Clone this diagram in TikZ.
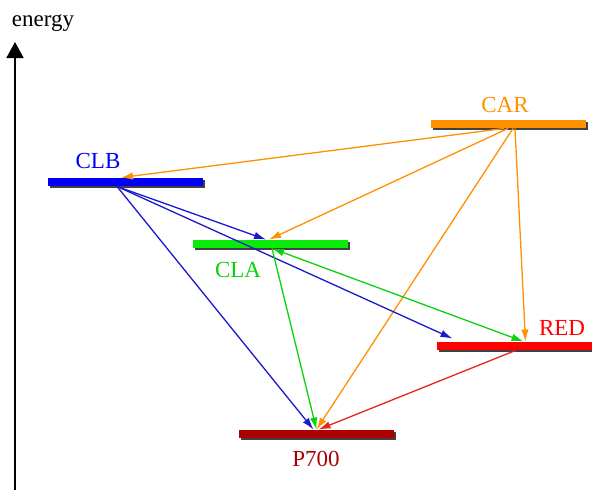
\documentclass[tikz,border=0pt]{standalone}
\usepackage{fontspec}
\setmainfont{Liberation Serif}
\usetikzlibrary{arrows.meta,shadows}
\definecolor{carorange}{RGB}{255,145,0}
\definecolor{clbblue}{RGB}{0,0,250}
\definecolor{clbline}{RGB}{25,25,205}
\definecolor{clagreen}{RGB}{10,235,10}
\definecolor{redred}{RGB}{255,0,0}
\definecolor{redline}{RGB}{235,35,35}
\definecolor{pdark}{RGB}{172,0,0}
\begin{document}
\begin{tikzpicture}[x=1pt,y=-1pt]
    \useasboundingbox (0,0) rectangle (592,490);

    % energy axis
    \coordinate (axbot) at (15,490);
    \coordinate (axtop) at (15,42);
    \draw [line width=1.8pt,-{Triangle[length=16pt,width=17pt]}] (axbot) -- (axtop);
    \node [font=\fontsize{23}{26}\selectfont] (energy) at (43,23) {energy};

    \begin{scope}[every node/.style={rectangle, inner sep=0pt, minimum width=155pt, minimum height=8.5pt,
            drop shadow={shadow xshift=2pt, shadow yshift=-2pt, opacity=0.75, fill=black}}]
        \node [fill=carorange] (car) at (508,124) {};
        \node [fill=clbblue] (clb) at (125,182) {};
        \node [fill=clagreen] (cla) at (270,244) {};
        \node [fill=redred] (red) at (514.5,346) {};
        \node [fill=pdark] (p700) at (316.5,434) {};
    \end{scope}

    \begin{scope}[every node/.style={font=\fontsize{23}{26}\selectfont}]
        \node [text=carorange] (carlab) at (505,105) {CAR};
        \node [text=clbblue] (clblab) at (98,161) {CLB};
        \node [text=clagreen!90!black] (clalab) at (238,270) {CLA};
        \node [text=redred] (redlab) at (562,328) {RED};
        \node [text=pdark] (p700lab) at (316,459) {P700};
    \end{scope}

    \begin{scope}[every edge/.style={draw, line width=1.3pt}, >={Latex[length=12pt,width=7.5pt]}]
        % from CAR
        \path [->, carorange] ([xshift=-4pt]car.south) edge ([xshift=-4pt]clb.north);
        \path [->, carorange] ([xshift=0pt]car.south) edge ([xshift=-1pt]cla.north);
        \path [->, carorange] ([xshift=5pt]car.south) edge ([xshift=0pt]p700.north);
        \path [->, carorange] ([xshift=7pt]car.south) edge ([xshift=11pt]red.north);
        % from CLB
        \path [->, clbline] ([xshift=-8pt]clb.south) edge ([xshift=-4pt]cla.north);
        \path [->, clbline] ([xshift=-8pt]clb.south) edge ([xshift=-62pt,yshift=3pt]red.north);
        \path [->, clbline] ([xshift=-8pt]clb.south) edge ([xshift=-3pt]p700.north);
        % from CLA
        \path [->, clagreen!90!black] ([xshift=2pt]cla.south) edge ([xshift=0pt]p700.north);
        \path [<->, clagreen!90!black] ([xshift=2pt]cla.south) edge ([xshift=9pt]red.north);
        % from RED
        \path [->, redline] ([xshift=1pt]red.south) edge ([xshift=2pt]p700.north);
    \end{scope}
\end{tikzpicture}
\end{document}
